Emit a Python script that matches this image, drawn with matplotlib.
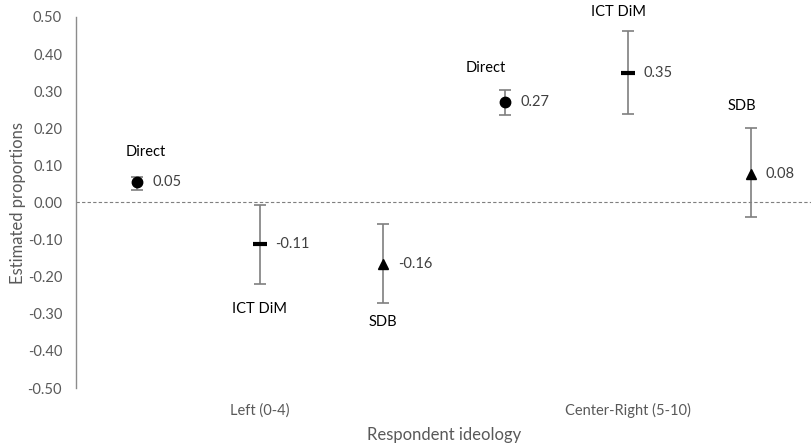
import matplotlib
matplotlib.use("Agg")
import matplotlib.pyplot as plt
import numpy as np

plt.rcParams["font.family"] = ["Lato", "DejaVu Sans"]

groups = ["Left (0-4)", "Center-Right (5-10)"]
methods = ["Direct", "ICT DiM", "SDB"]
markers = ["o", "_", "^"]

# estimate, lower bound, upper bound per method, one entry per group
estimates = {
    "Direct": [0.054, 0.27],
    "ICT DiM": [-0.111, 0.35],
    "SDB": [-0.165, 0.078],
}
lower = {
    "Direct": [0.035, 0.235],
    "ICT DiM": [-0.219, 0.238],
    "SDB": [-0.27, -0.038],
}
upper = {
    "Direct": [0.068, 0.303],
    "ICT DiM": [-0.008, 0.462],
    "SDB": [-0.059, 0.20],
}
value_labels = {
    "Direct": ["0.05", "0.27"],
    "ICT DiM": ["-0.11", "0.35"],
    "SDB": ["-0.16", "0.08"],
}
yticks = [-0.5, -0.4, -0.3, -0.2, -0.1, 0.0, 0.1, 0.2, 0.3, 0.4, 0.5]
ytick_labels = ["-0.50", "-0.40", "-0.30", "-0.20", "-0.10", "0.00",
                "0.10", "0.20", "0.30", "0.40", "0.50"]

# name label placement (points offset from the estimate)
name_offsets = {
    ("Direct", 0): (6, 22), ("Direct", 1): (-14, 25),
    ("ICT DiM", 0): (0, -47), ("ICT DiM", 1): (-7, 44),
    ("SDB", 0): (0, -42), ("SDB", 1): (-6, 49),
}

gray = "#7f7f7f"
text_gray = "#595959"

fig = plt.figure(figsize=(8.12, 4.46), dpi=100)
ax = fig.add_axes([76 / 812, 1 - 388 / 446, 1 - 76 / 812, (388 - 17) / 446])

ax.axhline(0, color=gray, lw=0.8, ls=(0, (3, 2)), zorder=1)

for j, m in enumerate(methods):
    for i in range(len(groups)):
        x = i + (j - 1) / 3
        y = estimates[m][i]
        yerr = [[y - lower[m][i]], [upper[m][i] - y]]
        ax.errorbar(x, y, yerr=yerr, fmt="none", ecolor=gray, elinewidth=1.2,
                    capsize=4, capthick=1.2, zorder=2)
        if m == "ICT DiM":
            ax.plot(x, y, marker="_", color="black", ms=10, mew=3, zorder=3)
        else:
            ax.plot(x, y, marker=markers[j], color="black", ms=7.5, ls="none", zorder=3)
        ax.annotate(value_labels[m][i], (x, y), xytext=(11, 0), textcoords="offset points",
                    ha="left", va="center", fontsize=10.5, color="#404040")
        dx, dy = name_offsets[(m, i)]
        ax.annotate(m, (x, y), xytext=(dx, dy), textcoords="offset points",
                    ha="center", va="center", fontsize=10.5, color="black")

ax.set_xlim(-0.5, 1.5)
ax.set_ylim(-0.5, 0.5)
ax.set_yticks(yticks)
ax.set_yticklabels(ytick_labels)
ax.set_xticks(range(len(groups)))
ax.set_xticklabels(groups)
ax.tick_params(axis="both", length=0, labelsize=10.5, labelcolor=text_gray)
ax.tick_params(axis="x", pad=11)
ax.tick_params(axis="y", pad=10)

for s in ["top", "right", "bottom"]:
    ax.spines[s].set_visible(False)
ax.spines["left"].set_color("#8c8c8c")
ax.spines["left"].set_linewidth(1.0)

ax.set_ylabel("Estimated proportions", fontsize=12, color=text_gray, labelpad=1)
ax.set_xlabel("Respondent ideology", fontsize=12, color=text_gray, labelpad=6)

fig.savefig("out.png", dpi=100)
